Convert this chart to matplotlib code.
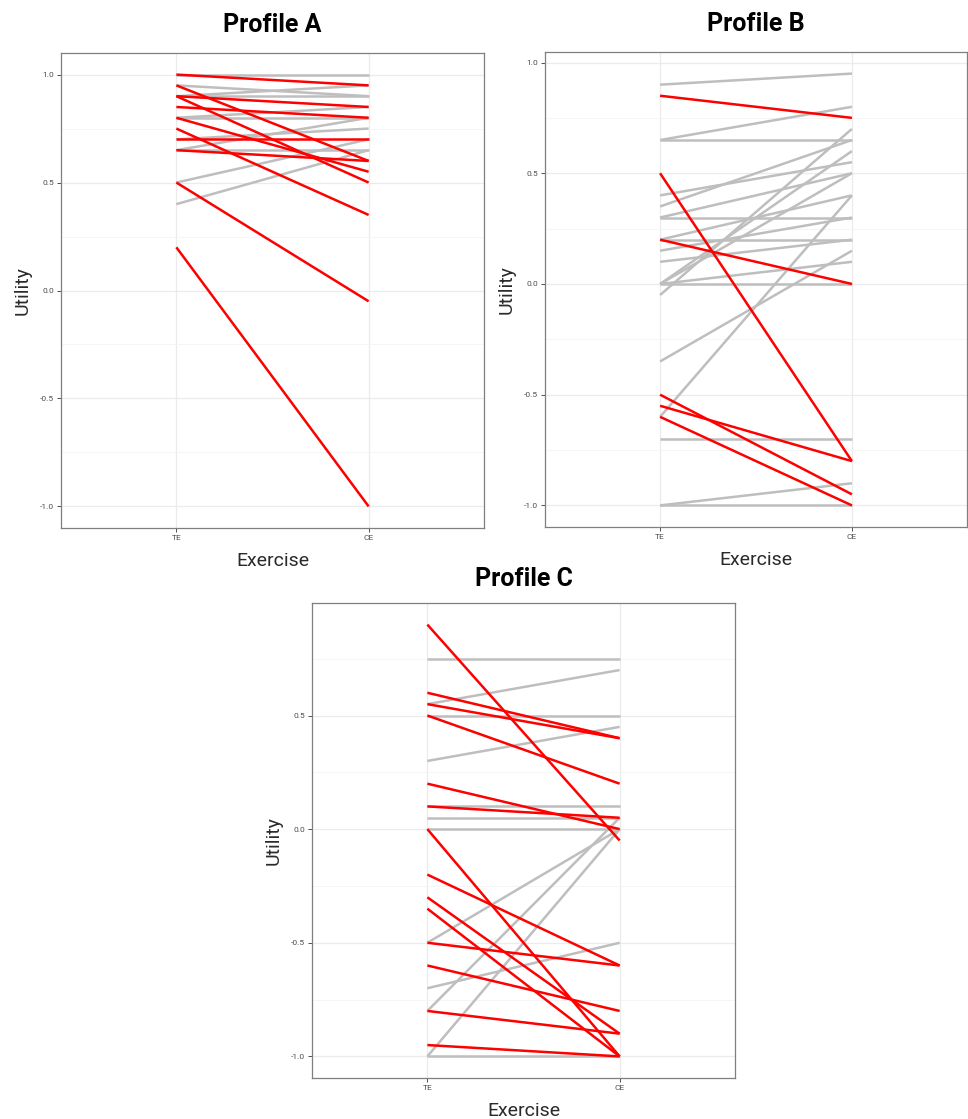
import matplotlib
matplotlib.use('Agg')
import matplotlib.pyplot as plt
from matplotlib.ticker import MultipleLocator

plt.rcParams['font.family'] = ['Roboto', 'DejaVu Sans']

# x categories
exercises = ['TE', 'CE']

# Profile A (TE value, CE value)
a_grey_te = [1.00, 0.95, 0.90, 0.90, 0.80, 0.80, 0.70, 0.65, 0.65, 0.50, 0.40]
a_grey_ce = [1.00, 0.90, 0.90, 0.95, 0.85, 0.80, 0.75, 0.80, 0.65, 0.70, 0.65]
a_red_te = [1.00, 0.95, 0.90, 0.90, 0.85, 0.80, 0.75, 0.70, 0.65, 0.50, 0.20]
a_red_ce = [0.95, 0.60, 0.85, 0.50, 0.80, 0.55, 0.35, 0.70, 0.60, -0.05, -1.00]

# Profile B
b_grey_te = [0.90, 0.65, 0.65, 0.40, 0.35, 0.30, 0.30, 0.20, 0.20, 0.15, 0.10,
             0.00, 0.00, 0.00, 0.00, -0.05, -0.35, -0.60, -0.70, -1.00, -1.00]
b_grey_ce = [0.95, 0.80, 0.65, 0.55, 0.65, 0.50, 0.30, 0.40, 0.20, 0.30, 0.20,
             0.60, 0.50, 0.10, 0.00, 0.70, 0.15, 0.40, -0.70, -1.00, -0.90]
b_red_te = [0.85, 0.50, 0.20, -0.50, -0.55, -0.60]
b_red_ce = [0.75, -0.80, 0.00, -0.95, -0.80, -1.00]

# Profile C
c_grey_te = [0.75, 0.55, 0.50, 0.30, 0.10, 0.05, 0.00, -0.50, -0.70, -0.80, -1.00, -1.00]
c_grey_ce = [0.75, 0.70, 0.50, 0.45, 0.10, 0.05, 0.00, 0.00, -0.50, 0.05, 0.00, -1.00]
c_red_te = [0.90, 0.60, 0.55, 0.50, 0.20, 0.10, 0.00, -0.20, -0.30, -0.35, -0.50, -0.60, -0.80, -0.95]
c_red_ce = [-0.05, 0.40, 0.40, 0.20, 0.00, 0.05, -1.00, -0.60, -0.90, -1.00, -0.60, -0.80, -0.90, -1.00]

GREY = '#BEBEBE'
RED = '#FF0000'
W, H = 968, 1119


def panel(fig, box, title, grey_te, grey_ce, red_te, red_ce, ylim, yticks, tpad=15):
    l, t, r, b = box
    ax = fig.add_axes([l / W, 1 - b / H, (r - l) / W, (b - t) / H])
    for y0, y1 in zip(grey_te, grey_ce):
        ax.plot([1, 2], [y0, y1], color=GREY, lw=1.8, solid_capstyle='butt', zorder=2)
    for y0, y1 in zip(red_te, red_ce):
        ax.plot([1, 2], [y0, y1], color=RED, lw=1.8, solid_capstyle='butt', zorder=3)
    ax.set_xlim(0.4, 2.6)
    ax.set_ylim(*ylim)
    ax.set_xticks([1, 2])
    ax.set_xticklabels(exercises)
    ax.set_yticks(yticks)
    ax.set_yticklabels(['%.1f' % v for v in yticks])
    ax.yaxis.set_minor_locator(MultipleLocator(0.25))
    ax.grid(True, which='major', color='#EBEBEB', lw=0.9, zorder=0)
    ax.grid(True, which='minor', axis='y', color='#F4F4F4', lw=0.6, zorder=0)
    ax.tick_params(which='minor', length=0)
    ax.tick_params(which='major', length=3, width=0.6, color='#333333',
                   labelsize=6, labelcolor='#4D4D4D', pad=2)
    for s in ax.spines.values():
        s.set_color('#7F7F7F')
        s.set_linewidth(0.9)
    ax.set_xlabel('Exercise', fontsize=14, color='#2A2A2A', labelpad=8)
    ax.set_ylabel('Utility', fontsize=14, color='#2A2A2A', labelpad=6)
    ax.set_title(title, fontsize=18, fontweight='bold', pad=tpad)
    return ax


fig = plt.figure(figsize=(W / 100, H / 100), dpi=100)

panel(fig, (61, 53, 484, 528), 'Profile A', a_grey_te, a_grey_ce, a_red_te, a_red_ce,
      (-1.1, 1.1), [-1.0, -0.5, 0.0, 0.5, 1.0])
panel(fig, (545, 52, 967, 527), 'Profile B', b_grey_te, b_grey_ce, b_red_te, b_red_ce,
      (-1.0975, 1.0475), [-1.0, -0.5, 0.0, 0.5, 1.0])
panel(fig, (312, 603, 735, 1078), 'Profile C', c_grey_te, c_grey_ce, c_red_te, c_red_ce,
      (-1.095, 0.995), [-1.0, -0.5, 0.0, 0.5], tpad=12)

fig.savefig('out.png', dpi=100, facecolor='white')
